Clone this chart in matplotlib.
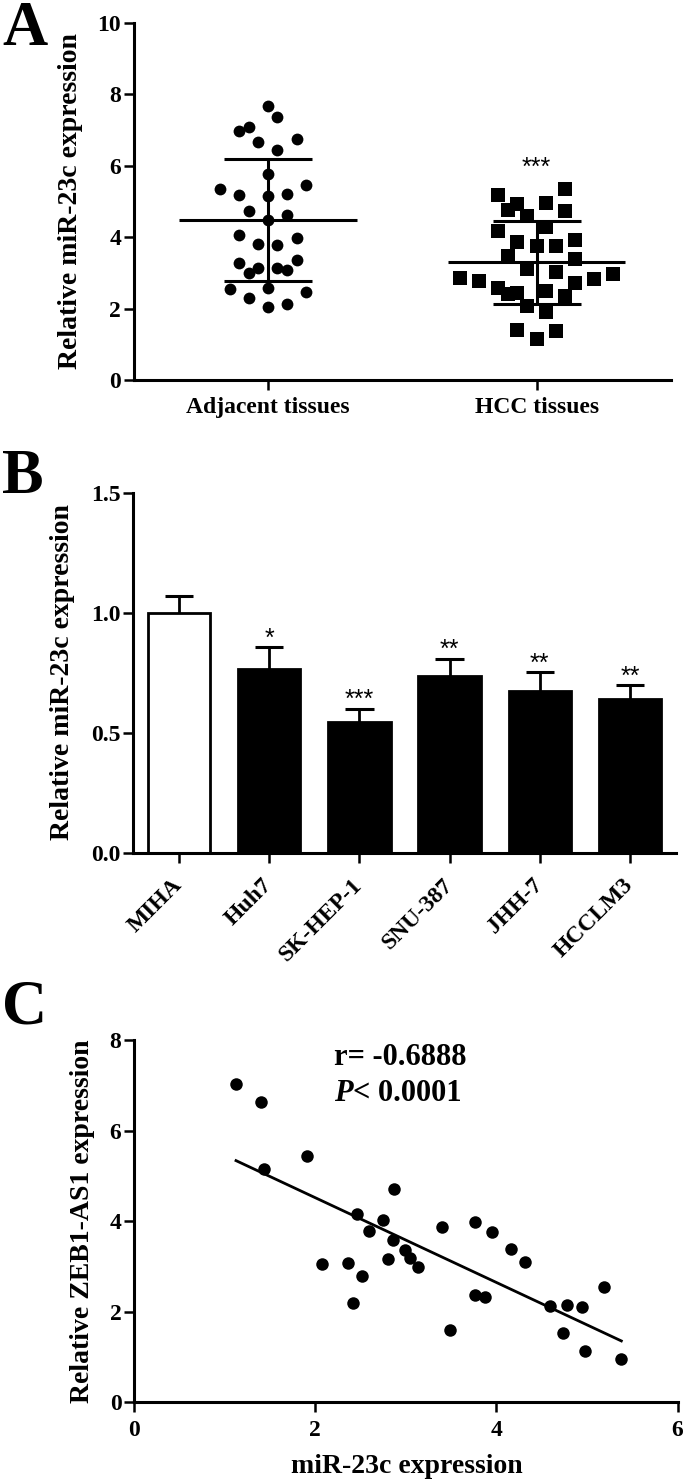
import numpy as np
import matplotlib.pyplot as plt

plt.rcParams['font.family'] = 'Liberation Serif'
plt.rcParams['font.weight'] = 'bold'
plt.rcParams['axes.labelweight'] = 'bold'

# A: miR-23c in tissues
tissue_labels = ['Adjacent tissues', 'HCC tissues']
adjacent = [7.68, 7.38, 6.97, 7.08, 6.66, 6.74, 6.45, 5.78, 5.34, 5.45, 5.17,
            5.15, 5.21, 4.72, 4.49, 4.61, 4.07, 3.98, 3.80, 3.78, 3.29, 3.14,
            3.15, 3.36, 3.09, 3.01, 2.55, 2.57, 2.46, 2.30, 2.12, 2.04]
hcc = [5.35, 5.17, 4.93, 4.97, 4.77, 4.60, 4.72, 4.28, 4.16, 3.86, 3.74,
       3.74, 3.92, 3.46, 3.39, 3.11, 3.02, 2.85, 2.78, 2.82, 2.97, 2.57,
       2.41, 2.45, 2.50, 2.73, 2.35, 2.06, 1.90, 1.40, 1.37, 1.14]
# horizontal slot of every dot inside its column
adjacent_slot = [0, 1, -3, -2, -1, 3, 1, 0, -5, 4, -3, 0, 2, -2, 0, 2, -3, 3,
                 -1, 1, -3, -1, 1, 3, 2, -2, -4, 0, 4, -2, 2, 0]
hcc_slot = [3, -4, -2, 1, -3, -1, 3, 1, -4, -2, 0, 2, 4, -3, 4, -1, 2, -8,
            -6, 6, 8, -4, -3, -2, 1, 4, 3, -1, 1, -2, 2, 0]
tissue_stars = ['', '***']

# B: cell lines
cell_lines = ['MIHA', 'Huh7', 'SK-HEP-1', 'SNU-387', 'JHH-7', 'HCCLM3']
cell_mean = [1.0, 0.763, 0.545, 0.735, 0.673, 0.638]
cell_err = [0.07, 0.094, 0.054, 0.073, 0.079, 0.06]
cell_stars = ['', '*', '***', '**', '**', '**']

# C: correlation
mir_expr = [1.126, 1.398, 1.437, 1.915, 2.874, 2.466, 2.750, 2.590, 2.854,
            2.990, 3.049, 3.138, 2.804, 2.070, 2.357, 2.517, 2.419, 3.398,
            3.759, 3.953, 4.163, 4.318, 3.767, 3.876, 3.483, 4.594, 4.784,
            4.940, 5.184, 4.738, 4.983, 5.379]
zeb_expr = [7.02, 6.64, 5.15, 5.44, 4.70, 4.15, 4.03, 3.78, 3.58, 3.35, 3.19,
            2.99, 3.15, 3.05, 3.08, 2.78, 2.18, 3.86, 3.97, 3.75, 3.38, 3.10,
            2.36, 2.31, 1.59, 2.12, 2.15, 2.09, 2.55, 1.53, 1.12, 0.94]
r_text = 'r= -0.6888'
p_text = '< 0.0001'

TICK = 17
LABEL = 20
STAR = dict(family='Liberation Sans', fontsize=18, fontweight='normal')


def style(ax):
    for s in ['top', 'right']:
        ax.spines[s].set_visible(False)
    for s in ['left', 'bottom']:
        ax.spines[s].set_linewidth(2.2)
    ax.tick_params(direction='out', length=7, width=1.8, labelsize=TICK)
    ax.tick_params(axis='y', pad=2)


fig = plt.figure(figsize=(6.85, 14.81), dpi=100)

# ---------------- A
ax = fig.add_axes([0.1949, 0.74342, 0.78467, 0.24105])
style(ax)
slot = 0.0356
groups = [(adjacent, adjacent_slot, 'o', 8.5), (hcc, hcc_slot, 's', 9.5)]
for i, (vals, slots, mk, ms) in enumerate(groups):
    vals = np.array(vals)
    xs = i + np.array(slots) * slot
    ax.plot(xs, vals, ls='none', marker=mk, ms=ms, color='black', mew=0,
            zorder=3)
    m = vals.mean()
    sd = vals.std(ddof=1)
    ax.hlines(m, i - 0.33, i + 0.33, color='black', lw=2.2, zorder=2)
    ax.vlines(i, m - sd, m + sd, color='black', lw=2.2, zorder=2)
    ax.hlines([m - sd, m + sd], i - 0.164, i + 0.164, color='black', lw=2.2,
              zorder=2)
    if tissue_stars[i]:
        ax.annotate(tissue_stars[i], (i, vals.max()), xytext=(0, 10),
                    textcoords='offset points', ha='center', va='baseline',
                    **STAR)
ax.set_xlim(-0.5, 1.5)
ax.set_ylim(0, 10)
ax.set_yticks(range(0, 11, 2))
ax.set_xticks([0, 1])
ax.set_xticklabels(tissue_labels)
ax.tick_params(axis='x', pad=5)
ax.set_ylabel('Relative miR-23c expression', fontsize=LABEL)
ax.yaxis.set_label_coords(-0.0945, 0.5)

# ---------------- B
ax = fig.add_axes([0.19416, 0.42437, 0.79270, 0.24308])
style(ax)
x = np.arange(len(cell_lines))
colors = ['white'] + ['black'] * (len(cell_lines) - 1)
ax.bar(x, cell_mean, width=0.69, color=colors, edgecolor='black', lw=2,
       zorder=2)
tops = np.array(cell_mean) + np.array(cell_err)
ax.vlines(x, cell_mean, tops, color='black', lw=2, zorder=1)
ax.hlines(tops, x - 0.157, x + 0.157, color='black', lw=2.2, zorder=1)
for xi, t, s in zip(x, tops, cell_stars):
    if s:
        ax.annotate(s, (xi, t), xytext=(0, 1), textcoords='offset points',
                    ha='center', va='baseline', **STAR)
ax.set_xlim(-0.51, 5.51)
ax.set_ylim(0, 1.5)
ax.set_yticks([0, 0.5, 1.0, 1.5])
ax.set_yticklabels(['0.0', '0.5', '1.0', '1.5'])
ax.set_xticks(x)
ax.set_xticklabels(cell_lines, rotation=45, ha='right', va='center',
                   rotation_mode='anchor')
ax.tick_params(axis='x', pad=14)
ax.set_ylabel('Relative miR-23c expression', fontsize=LABEL)
ax.yaxis.set_label_coords(-0.107, 0.5)

# ---------------- C
ax = fig.add_axes([0.19562, 0.05334, 0.79358, 0.24443])
style(ax)
ax.plot(mir_expr, zeb_expr, ls='none', marker='o', ms=9, color='black',
        mew=0, zorder=3)
k, b = np.polyfit(mir_expr, zeb_expr, 1)
xf = np.array([min(mir_expr), max(mir_expr)])
ax.plot(xf, k * xf + b, color='black', lw=2, zorder=2)
ax.set_xlim(0, 6)
ax.set_ylim(0, 8)
ax.set_xticks(range(0, 7, 2))
ax.set_yticks(range(0, 9, 2))
ax.tick_params(axis='x', pad=6)
ax.set_xlabel('miR-23c expression', fontsize=LABEL)
ax.xaxis.set_label_coords(0.501, -0.145)
ax.set_ylabel('Relative ZEB1-AS1 expression', fontsize=LABEL)
ax.yaxis.set_label_coords(-0.072, 0.5)
ax.text(2.21, 7.45, r_text, fontsize=22, ha='left', va='baseline')
pt = ax.text(2.21, 6.66, 'P', fontsize=22, style='italic', ha='left',
             va='baseline')
ax.annotate(p_text, xy=(1, 0), xycoords=pt, fontsize=22, ha='left',
            va='bottom')

# panel letters
for lab, yy in [('A', 0.9696), ('B', 0.6671), ('C', 0.3086)]:
    fig.text(0.003, yy, lab, fontsize=45, fontweight='bold', va='baseline')

fig.savefig('out.png', dpi=100)
